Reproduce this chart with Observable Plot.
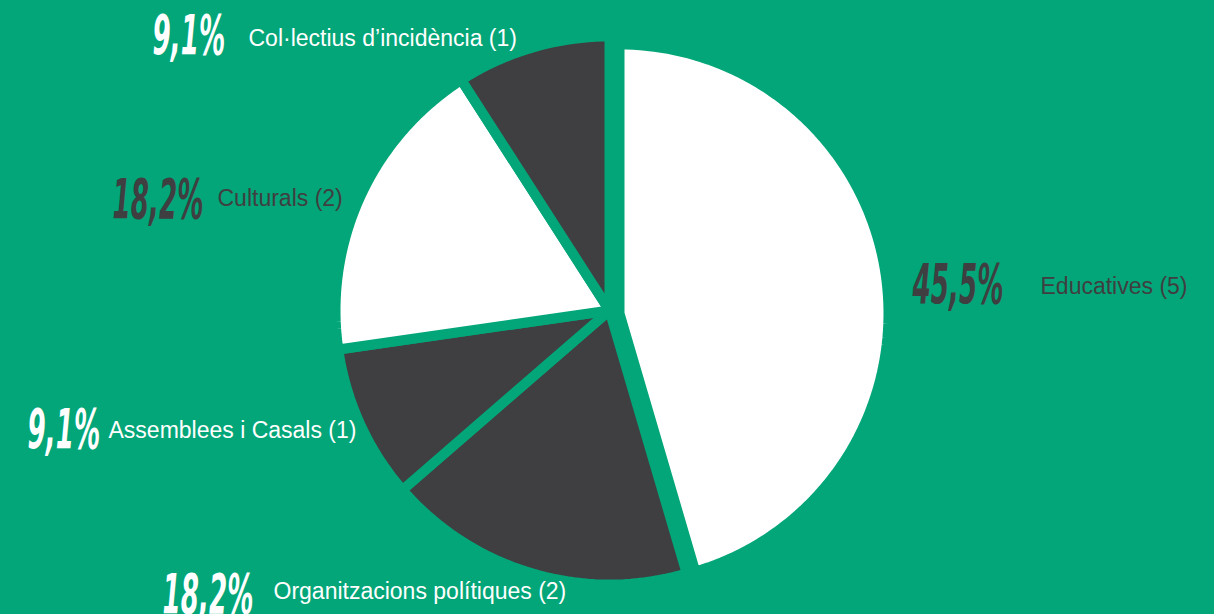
<!DOCTYPE html>
<html>
<head>
<meta charset="utf-8">
<script src="https://cdn.jsdelivr.net/npm/d3@7"></script>
<script src="https://cdn.jsdelivr.net/npm/@observablehq/plot@0.6"></script>
<style>
  html, body { margin: 0; padding: 0; background: #03a678; overflow: hidden; }
  #chart svg { display: block; }
</style>
</head>
<body>
<div id="chart"></div>
<script>
// ---- Data ----
const categories = ["Educatives", "Organitzacions polítiques", "Assemblees i Casals", "Culturals", "Col·lectius d’incidència"];
const counts = [5, 2, 1, 2, 1];

// ---- Styles ----
const GREEN = "#03a678", DARK = "#3f3e40", WHITE = "#ffffff";
const sliceFill = [WHITE, DARK, DARK, WHITE, DARK];
const textFill = [DARK, WHITE, WHITE, DARK, WHITE];

// ---- Layout (px) ----
const W = 1214, H = 614;
const CX = 609, CY = 310, R = 274;
const sliceShift = [
  {dx: 10, dy: 3, r: 269},
  {dx: 0, dy: 0, r: 274},
  {dx: 0, dy: 0, r: 274},
  {dx: 0, dy: 0, r: 274},
  {dx: 0, dy: 0, r: 274}
];
const pctAt = [[912, 302], [162, 612], [27, 447], [112, 217], [152, 53]];
const labelAt = [[1040, 293], [273, 598], [108, 437], [217, 205], [248, 45]];
const PCT_SCALE = 0.52;

// ---- Derived ----
const total = d3.sum(counts);
const pctText = counts.map(c => (Math.round(c / total * 1000) / 10).toFixed(1).replace(".", ",") + "%");
const arcs = d3.pie().sort(null).startAngle(0).endAngle(2 * Math.PI)(counts);

const slicePts = [];
arcs.forEach((a, i) => {
  const s = sliceShift[i];
  const cx = CX + s.dx, cy = CY + s.dy;
  const cat = categories[i];
  const n = Math.max(8, Math.ceil((a.endAngle - a.startAngle) / (2 * Math.PI) * 240));
  slicePts.push({cat, x: cx, y: cy});
  for (let k = 0; k <= n; k++) {
    const ang = a.startAngle + (a.endAngle - a.startAngle) * k / n;
    slicePts.push({cat, x: cx + s.r * Math.sin(ang), y: cy - s.r * Math.cos(ang)});
  }
  slicePts.push({cat, x: cx, y: cy});
});

const labels = categories.map((c, i) => ({
  cat: c,
  pct: pctText[i],
  name: `${c} (${counts[i]})`,
  px: pctAt[i][0], py: pctAt[i][1],
  lx: labelAt[i][0], ly: labelAt[i][1],
  color: textFill[i]
}));

const pctFont = "'DejaVu Sans Condensed', 'DejaVu Sans', sans-serif";
const labelFont = "'Liberation Sans', Arial, sans-serif";

const textMarks = [];
for (const col of [DARK, WHITE]) {
  const sub = labels.filter(d => d.color === col);
  textMarks.push(
    Plot.text(sub, {x: "px", y: "py", text: "pct", fill: col, fontSize: 56, fontWeight: "bold", fontStyle: "italic",
      fontFamily: pctFont, textAnchor: "start", lineAnchor: "bottom"}),
    Plot.text(sub, {x: "lx", y: "ly", text: "name", fill: col, fontSize: 23, fontFamily: labelFont,
      textAnchor: "start", lineAnchor: "bottom"})
  );
}

const chart = Plot.plot({
  width: W, height: H, margin: 0,
  style: {background: GREEN, overflow: "visible"},
  x: {type: "linear", domain: [0, W], range: [0, W], axis: null},
  y: {type: "linear", domain: [0, H], range: [0, H], axis: null},
  color: {type: "ordinal", domain: categories, range: sliceFill},
  marks: [
    Plot.line(slicePts, {x: "x", y: "y", z: "cat", fill: "cat", stroke: GREEN, strokeWidth: 10,
      strokeLinejoin: "miter", strokeMiterlimit: 4, curve: "linear"}),
    ...textMarks
  ]
});

document.getElementById("chart").appendChild(chart);

// condense the percentage figures horizontally
chart.querySelectorAll("text").forEach(t => {
  if (/%$/.test(t.textContent)) {
    const tr = t.getAttribute("transform") || "";
    const x = parseFloat(t.getAttribute("x")) || 0;
    t.setAttribute("transform", `${tr} translate(${x},0) scale(${PCT_SCALE},1) translate(${-x},0)`);
  }
});
</script>
</body>
</html>
